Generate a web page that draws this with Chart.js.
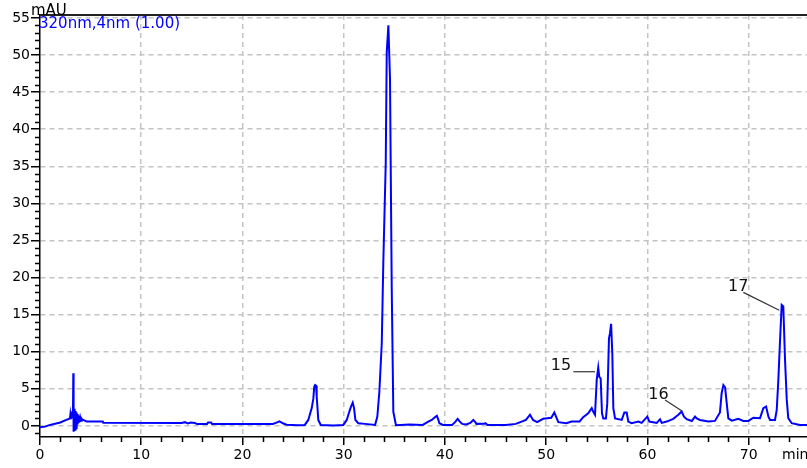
<!DOCTYPE html>
<html>
<head>
<meta charset="utf-8">
<script src="https://cdn.jsdelivr.net/npm/chart.js@4.4.1/dist/chart.umd.min.js"></script>
<style>
  html, body { margin: 0; padding: 0; background: #fff; }
  #wrap { width: 807px; height: 468px; }
</style>
</head>
<body>
<div id="wrap"><canvas id="c" width="807" height="468"></canvas></div>
<script>
// Retention time (min) and detector signal (mAU)
const retentionTimes = [
  0, 0.5, 1.0, 1.5, 2.0, 2.6, 2.96, 3.0, 3.05, 3.1, 3.15, 3.2, 3.25, 3.29, 3.32, 3.36, 3.4, 3.44, 3.48, 3.52,
  3.56, 3.6, 3.64, 3.68, 3.72, 3.77, 3.82, 3.87, 3.92, 3.98, 4.05, 4.12, 4.2,
  4.3, 4.6, 6.2, 6.25, 14.0, 14.3, 14.6, 14.9, 15.3, 15.5, 16.5, 16.6, 16.9, 17.0,
  23.0, 23.3, 23.65, 24.0, 24.35, 25.5, 26.15, 26.5, 26.84, 27.0, 27.09, 27.17, 27.27, 27.33, 27.49, 27.73,
  29.0, 29.96, 30.3, 30.55, 30.72, 30.89, 31.02, 31.15, 31.44, 32.1, 33.1,
  33.32, 33.52, 33.76, 33.91, 34.15, 34.25, 34.41, 34.57, 34.74, 34.9, 35.16,
  36.5, 37.8, 38.35, 38.7, 39.0, 39.2, 39.35, 39.45, 39.8, 40.7, 41.0, 41.25, 41.45, 41.7, 42.1,
  42.5, 42.8, 43.0, 43.1, 43.9, 44.0, 44.2, 46.0, 47.0, 48.0, 48.4, 48.7, 49.1, 49.7, 50.5, 50.8, 51.2,
  52.0, 52.5, 53.3, 53.65, 54.15, 54.5, 54.65, 54.82, 54.99, 55.14, 55.24, 55.38, 55.51, 55.64, 55.9,
  56.03, 56.2, 56.3, 56.41, 56.53, 56.63, 56.8, 57.46, 57.72, 57.95, 58.11, 58.44, 59.1, 59.43, 59.99,
  60.19, 60.92, 61.24, 61.41, 61.9, 62.55, 63.05, 63.38, 63.61, 63.88, 64.38, 64.7, 64.87, 65.19, 66.01,
  66.67, 67.16, 67.33, 67.5, 67.67, 67.83, 67.99, 68.33, 68.98, 69.47, 69.96, 70.46, 71.12, 71.45, 71.72,
  71.95, 72.11, 72.6, 72.77, 72.93, 73.1, 73.26, 73.42, 73.59, 73.76, 73.91, 74.25, 75.07, 75.8
];
const signal = [
  -0.2, -0.1, 0.13, 0.3, 0.45, 0.8, 1.0, 1.5, 0.9, 1.8, 1.2, 2.0, 1.0, 7.1, -0.8, 2.3, -0.7, 2.1, -0.5, 2.0,
  -0.3, 1.8, 0.0, 1.6, 0.2, 1.4, 0.4, 1.2, 0.5, 1.1, 0.7, 0.95, 0.8,
  0.8, 0.58, 0.58, 0.42, 0.4, 0.5, 0.32, 0.45, 0.4, 0.24, 0.24, 0.45, 0.45, 0.24,
  0.25, 0.4, 0.6, 0.35, 0.15, 0.1, 0.13, 0.8, 2.4, 3.7, 5.3, 5.5, 5.4, 3.95, 0.8, 0.13,
  0.05, 0.13, 0.8, 1.9, 2.6, 3.14, 2.4, 0.8, 0.36, 0.27, 0.13,
  1.25, 4.6, 11.2, 22, 35.4, 50.4, 54.0, 46.9, 18.8, 1.9, 0.1,
  0.2, 0.13, 0.58, 0.8, 1.17, 1.35, 0.8, 0.36, 0.13, 0.13, 0.5, 0.95, 0.6, 0.27, 0.2,
  0.4, 0.8, 0.5, 0.27, 0.3, 0.36, 0.13, 0.13, 0.27, 0.8, 1.5, 0.8, 0.5, 0.95, 1.1, 1.8, 0.5,
  0.36, 0.58, 0.6, 1.17, 1.7, 2.4, 1.9, 1.5, 6.2, 7.86, 6.6, 6.4, 1.7, 1.0, 1.0,
  3.0, 11.8, 12.5, 13.75, 9.8, 2.4, 1.0, 0.8, 1.8, 1.8, 0.58, 0.36, 0.58, 0.4, 1.25,
  0.58, 0.4, 0.9, 0.4, 0.58, 0.95, 1.5, 1.93, 1.25, 0.9, 0.65, 1.25, 1.0, 0.8, 0.58,
  0.67, 1.8, 4.4, 5.5, 5.2, 3.06, 1.0, 0.7, 0.95, 0.67, 0.67, 1.1, 1.04, 2.4, 2.6,
  1.25, 0.8, 0.8, 2.15, 6.2, 11.6, 16.3, 16.1, 8.9, 3.5, 1.04, 0.36, 0.13, 0.13
];

// Peak labels and their leader lines (data units)
const peakLabels = ["15", "16", "17"];
const labelTimes = [50.45, 60.09, 67.96];
const labelLevels = [8.1, 4.2, 18.8];
const leaderStart = [[52.68, 7.3], [61.74, 3.5], [69.47, 18.0]];
const leaderEnd = [[54.82, 7.3], [63.41, 2.0], [73.02, 15.6]];

const seriesName = "320nm,4nm (1.00)";
const yUnit = "mAU";
const xUnit = "min";

const FONT = "'DejaVu Sans', 'Liberation Sans', sans-serif";
Chart.defaults.font.family = FONT;

const points = retentionTimes.map((t, i) => ({ x: t, y: signal[i] }));

// Extras: minor ticks, top frame, unit texts, peak labels
const overlay = {
  id: "overlay",
  afterDraw(chart) {
    const { ctx, chartArea: a, scales: { x, y } } = chart;
    ctx.save();
    ctx.strokeStyle = "#000";
    ctx.lineWidth = 1.5;
    ctx.beginPath();
    for (let v = 2; v < x.max; v += 2) {
      if (v % 10 === 0) continue;
      const px = Math.round(x.getPixelForValue(v)) + 0.5;
      ctx.moveTo(px, a.bottom);
      ctx.lineTo(px, a.bottom + 5);
    }
    for (let v = -1; v <= 55; v += 1) {
      if (v % 5 === 0) continue;
      const py = Math.round(y.getPixelForValue(v)) + 0.5;
      ctx.moveTo(a.left - 5, py);
      ctx.lineTo(a.left, py);
    }
    ctx.stroke();

    // top frame
    ctx.lineWidth = 2;
    ctx.strokeStyle = "#222";
    ctx.beginPath();
    ctx.moveTo(a.left, a.top);
    ctx.lineTo(a.right, a.top);
    ctx.stroke();

    ctx.textBaseline = "alphabetic";
    ctx.textAlign = "left";
    ctx.fillStyle = "#000";
    ctx.font = "15px " + FONT;
    ctx.fillText(yUnit, a.left - 9, a.top);
    ctx.font = "14px " + FONT;
    ctx.fillText(xUnit, a.right - 25, 459);
    ctx.fillStyle = "#0000ff";
    ctx.font = "15px " + FONT;
    ctx.fillText(seriesName, a.left - 1, a.top + 13);

    // peak annotations
    ctx.fillStyle = "#111";
    ctx.strokeStyle = "#333";
    ctx.lineWidth = 1.2;
    ctx.font = "16px " + FONT;
    ctx.textBaseline = "middle";
    peakLabels.forEach((lab, i) => {
      ctx.fillText(lab, x.getPixelForValue(labelTimes[i]), y.getPixelForValue(labelLevels[i]));
      ctx.beginPath();
      ctx.moveTo(x.getPixelForValue(leaderStart[i][0]), y.getPixelForValue(leaderStart[i][1]));
      ctx.lineTo(x.getPixelForValue(leaderEnd[i][0]), y.getPixelForValue(leaderEnd[i][1]));
      ctx.stroke();
    });
    ctx.restore();
  }
};

new Chart(document.getElementById("c"), {
  type: "scatter",
  data: {
    datasets: [{
      label: seriesName,
      data: points,
      showLine: true,
      borderColor: "#0000ff",
      borderWidth: 2,
      pointRadius: 0,
      tension: 0
    }]
  },
  options: {
    responsive: false,
    animation: false,
    layout: { padding: { top: 15, right: 0, bottom: 0, left: 0 } },
    plugins: { legend: { display: false }, tooltip: { enabled: false } },
    scales: {
      x: {
        type: "linear",
        min: 0,
        max: 75.76,
        afterFit: s => { s.height = 31; },
        ticks: {
          stepSize: 10, includeBounds: false, autoSkip: false, maxRotation: 0,
          color: "#000", padding: 2, font: { size: 14 }
        },
        grid: {
          color: c => (c.tick && c.tick.value === 0) ? "rgba(0,0,0,0)" : "#c4c4c4",
          lineWidth: 1.5, tickColor: "#000", tickLength: 8, tickWidth: 1.5
        },
        border: { color: "#000", width: 1.5, dash: [5, 4] }
      },
      y: {
        min: -1.5,
        max: 55.4,
        afterFit: s => { s.width = 40; },
        ticks: {
          stepSize: 5, includeBounds: false, autoSkip: false,
          color: "#000", padding: 1, font: { size: 14 }
        },
        grid: {
          color: "#c4c4c4", lineWidth: 1.5, tickColor: "#000", tickLength: 9, tickWidth: 1.5
        },
        border: { color: "#000", width: 1.5, dash: [5, 4] }
      }
    }
  },
  plugins: [overlay]
});
</script>
</body>
</html>
